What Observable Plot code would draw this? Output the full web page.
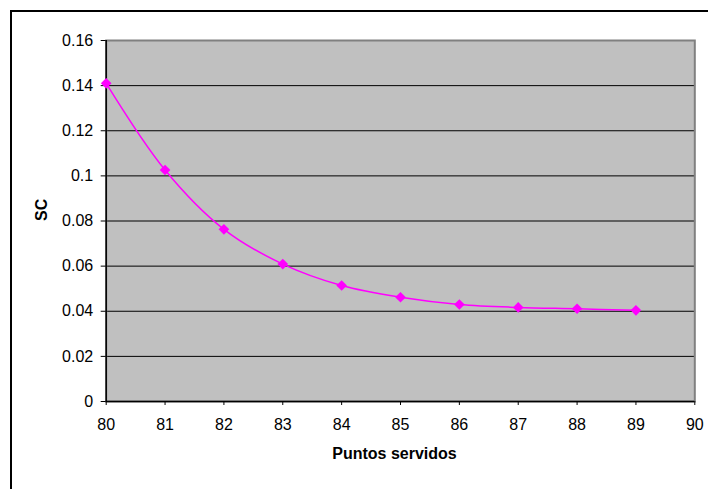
<!DOCTYPE html>
<html>
<head>
<meta charset="utf-8">
<script src="https://cdn.jsdelivr.net/npm/d3@7"></script>
<script src="https://cdn.jsdelivr.net/npm/@observablehq/plot@0.6"></script>
<style>
  html, body { margin: 0; padding: 0; background: #fff; }
  #wrap { position: relative; width: 708px; height: 489px; overflow: hidden; }
  #border { position: absolute; left: 10px; top: 10px; width: 720px; height: 520px; border: 2px solid #000; box-sizing: border-box; pointer-events: none; }
  #chart svg { display: block; }
</style>
</head>
<body>
<div id="wrap"><div id="chart"></div><div id="border"></div></div>
<script>
const puntos = [80, 81, 82, 83, 84, 85, 86, 87, 88, 89];
const sc = [0.141, 0.1026, 0.0763, 0.0609, 0.0514, 0.0462, 0.0430, 0.0417, 0.0411, 0.0404];
const yTicks = [0, 0.02, 0.04, 0.06, 0.08, 0.1, 0.12, 0.14, 0.16];
const xTicks = [80, 81, 82, 83, 84, 85, 86, 87, 88, 89, 90];
const xLabel = "Puntos servidos";
const yLabel = "SC";

const data = puntos.map((p, i) => ({x: p, y: sc[i]}));
const font = "'Liberation Sans', Arial, sans-serif";

const chart = Plot.plot({
  width: 708,
  height: 489,
  marginLeft: 105.7,
  marginRight: 13.7,
  marginTop: 40,
  marginBottom: 88,
  style: {fontFamily: font, fontSize: "16px", color: "#000", background: "transparent"},
  x: {domain: [80, 90]},
  y: {domain: [0, 0.16]},
  marks: [
    Plot.frame({fill: "#c0c0c0", stroke: "none"}),
    Plot.ruleY(yTicks, {stroke: "#000", strokeWidth: 1}),
    Plot.frame({stroke: "#808080", strokeWidth: 2}),
    Plot.ruleX([80], {stroke: "#000", strokeWidth: 1.5}),
    Plot.ruleY([0], {stroke: "#000", strokeWidth: 1.5}),
    Plot.axisY({ticks: yTicks, tickSize: 5, tickPadding: 8, tickFormat: d => String(d), label: null, fontSize: 16}),
    Plot.axisX({ticks: xTicks, tickSize: 4, tickPadding: 13.5, tickFormat: d => String(d), label: null, fontSize: 16}),
    Plot.line(data, {x: "x", y: "y", stroke: "#ff00ff", strokeWidth: 1.5, curve: "catmull-rom"}),
    Plot.dot(data, {x: "x", y: "y", symbol: "diamond2", r: 4.8, fill: "#ff00ff", stroke: "none"}),
    Plot.text([yLabel], {text: d => d, frameAnchor: "left", dx: -64, rotate: -90, fontWeight: "bold", fontSize: 16, fill: "#000"}),
    Plot.text([xLabel], {text: d => d, frameAnchor: "bottom", dx: -6, dy: 57, fontWeight: "bold", fontSize: 16, fill: "#000"})
  ]
});
document.getElementById("chart").appendChild(chart);
</script>
</body>
</html>
